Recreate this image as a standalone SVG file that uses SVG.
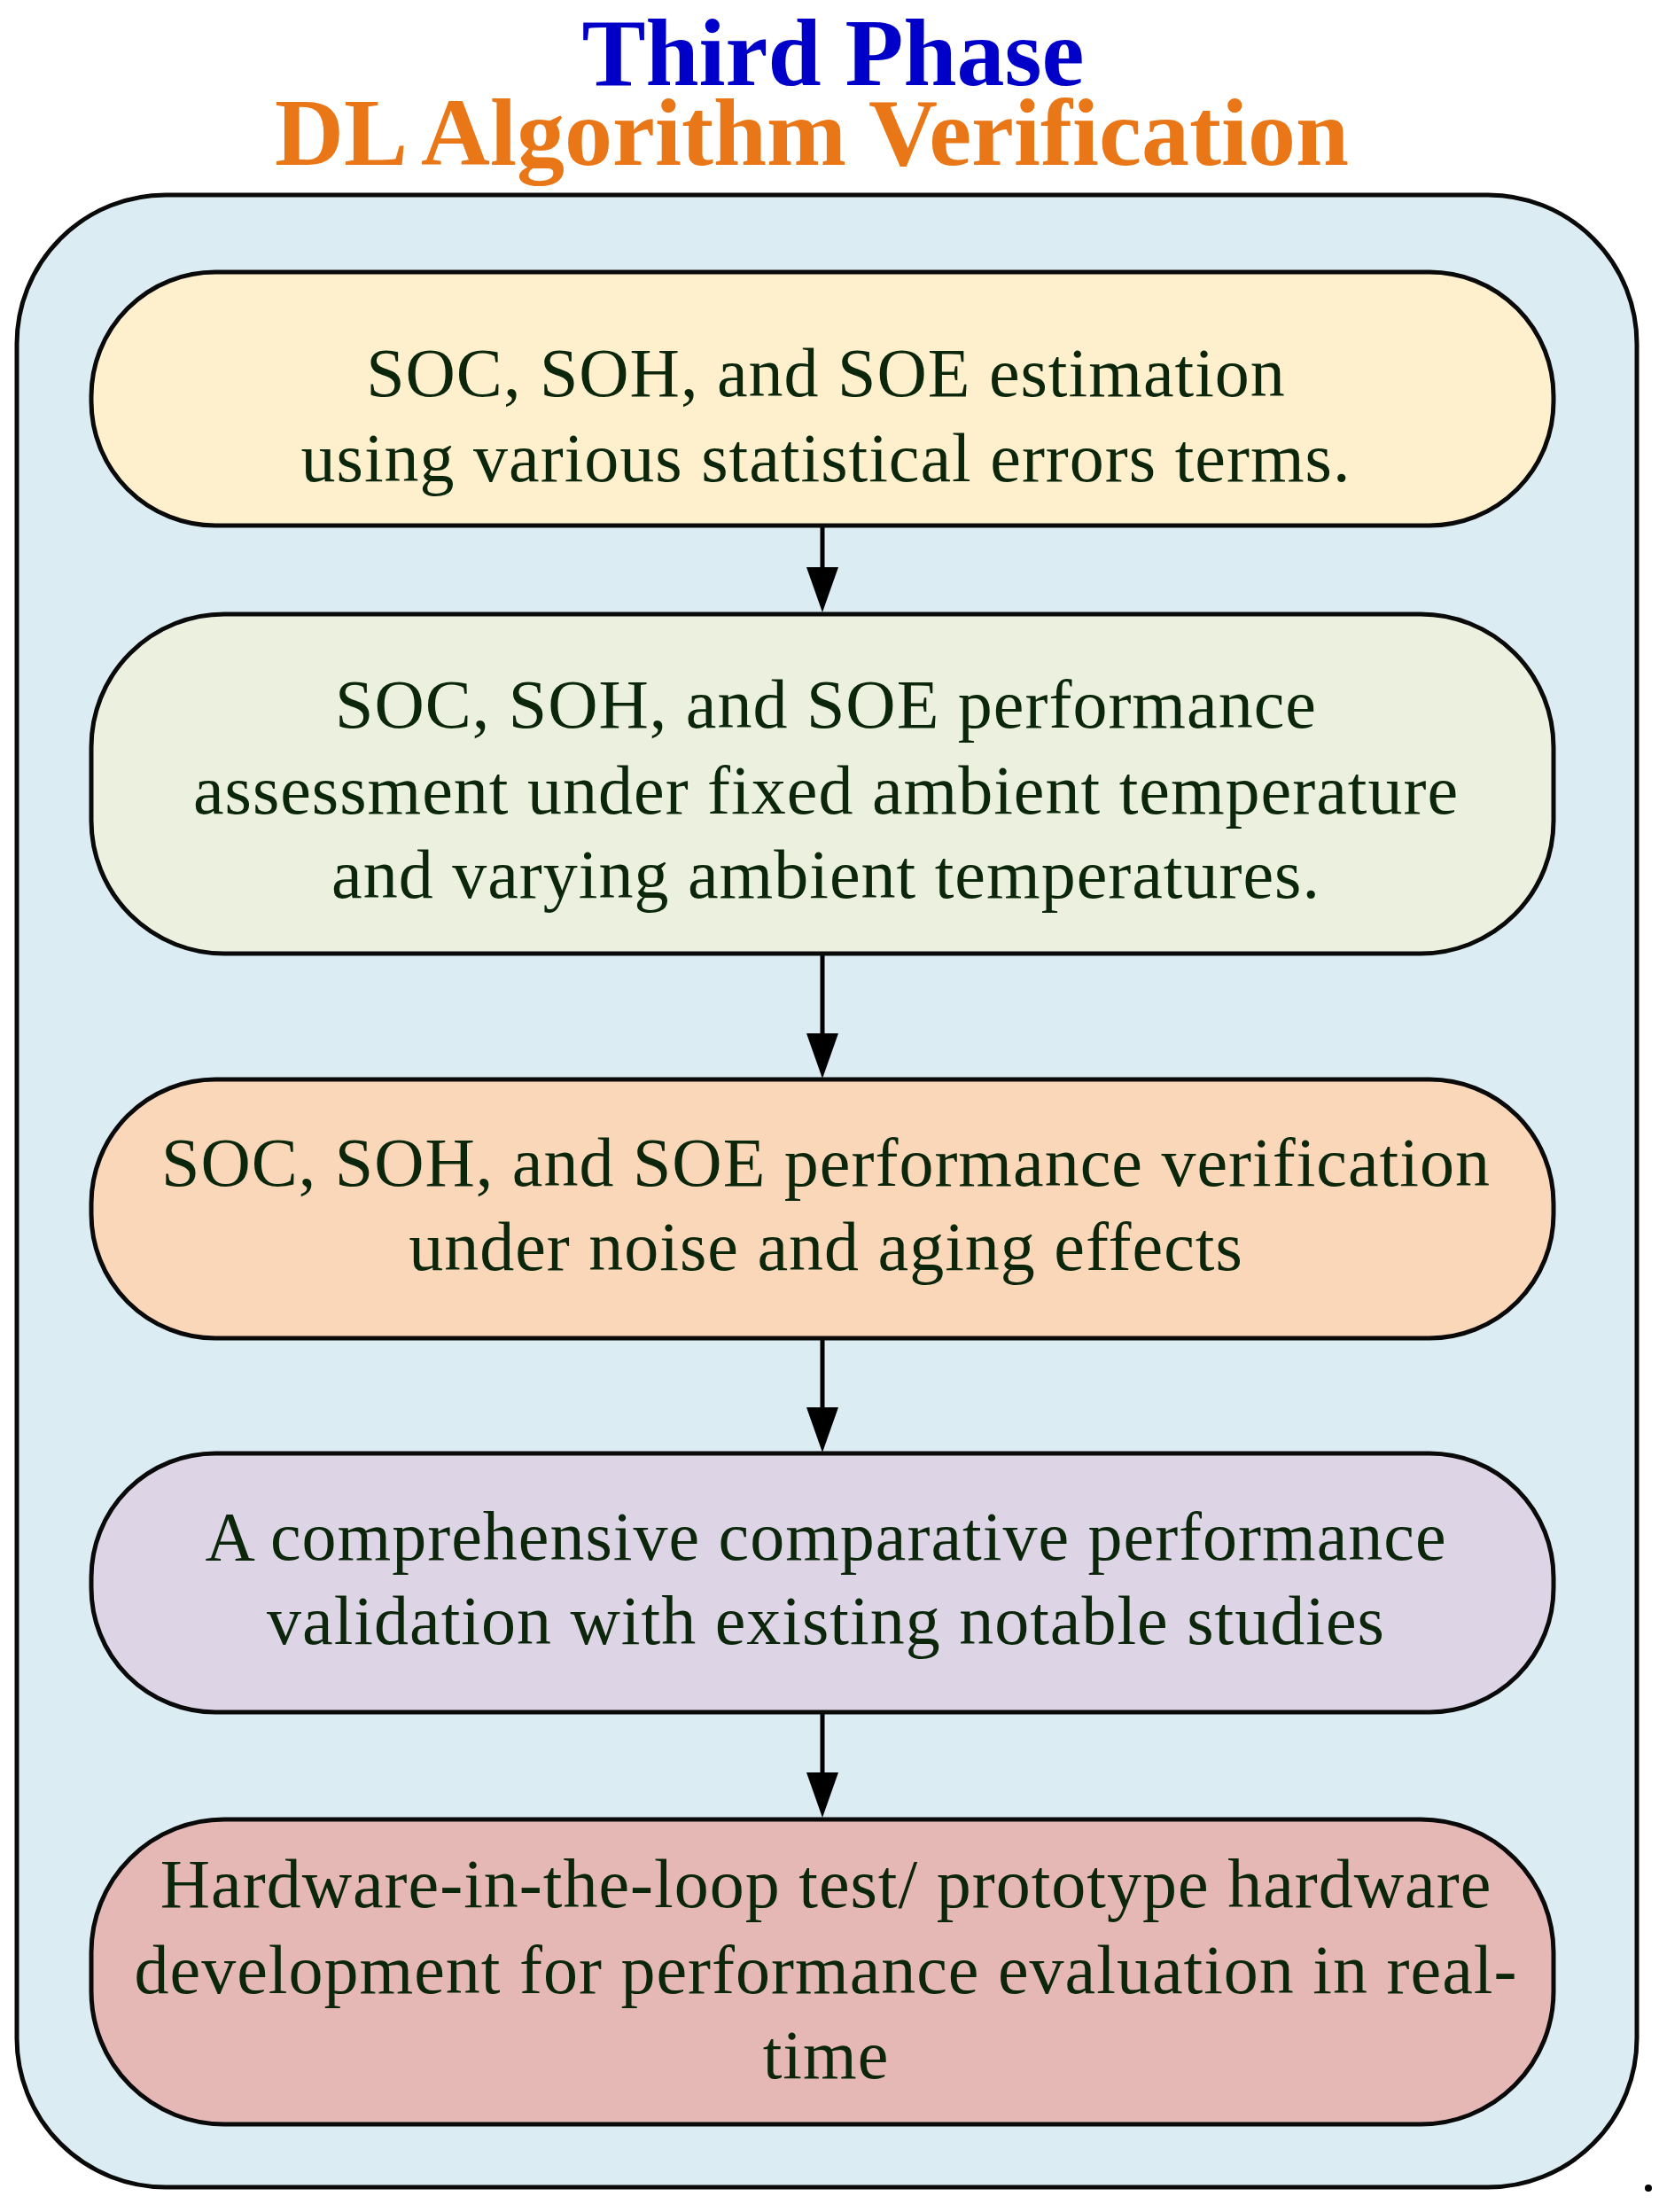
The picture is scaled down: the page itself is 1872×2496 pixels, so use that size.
<svg xmlns="http://www.w3.org/2000/svg" width="1872" height="2496" viewBox="0 0 1872 2496">
<style>
.title{font-family:"Liberation Serif","Times New Roman",serif;font-weight:bold;font-size:108px;text-anchor:middle}
.box{stroke:#0a0a0a;stroke-width:5}
.lbl{font-family:"Liberation Serif","Times New Roman",serif;font-size:78px;letter-spacing:1px;fill:#0b260b;text-anchor:middle}
.conn{stroke:#000;stroke-width:5;fill:none}
</style>
<defs>
<marker id="ah" viewBox="0 0 36 52" refX="18" refY="52" markerWidth="36" markerHeight="52" markerUnits="userSpaceOnUse" orient="auto-start-reverse">
<path d="M0,0 L36,0 L18,52 Z" fill="#000"/>
</marker>
</defs>
<rect width="1872" height="2496" fill="#ffffff"/>
<g id="title">
<text class="title" x="940" y="96" fill="#0000c8">Third Phase</text>
<text class="title" x="916" y="186" fill="#e97717">DL Algorithm Verification</text>
</g>
<g id="container">
<rect class="box" x="19" y="220" width="1828" height="2248" rx="168" ry="168" fill="#dbecf3"/>
</g>
<g id="connectors">
<line class="conn" x1="928" y1="594" x2="928" y2="640"/>
<path d="M910,640 L946,640 L928,691 Z" fill="#000"/>
<line class="conn" x1="928" y1="1077" x2="928" y2="1166"/>
<path d="M910,1166 L946,1166 L928,1217 Z" fill="#000"/>
<line class="conn" x1="928" y1="1511" x2="928" y2="1588"/>
<path d="M910,1588 L946,1588 L928,1639 Z" fill="#000"/>
<line class="conn" x1="928" y1="1933" x2="928" y2="2000"/>
<path d="M910,2000 L946,2000 L928,2051 Z" fill="#000"/>
</g>
<g id="node1">
<rect class="box" x="103" y="307" width="1650" height="286" rx="140" ry="140" fill="#fef0cd"/>
<text class="lbl" x="932" y="447">SOC, SOH, and SOE estimation</text>
<text class="lbl" x="932" y="543">using various statistical errors terms.</text>
</g>
<g id="node2">
<rect class="box" x="103" y="693" width="1650" height="383" rx="150" ry="150" fill="#ebf0df"/>
<text class="lbl" x="932" y="821">SOC, SOH, and SOE performance</text>
<text class="lbl" x="932" y="918">assessment under fixed ambient temperature</text>
<text class="lbl" x="932" y="1013">and varying ambient temperatures.</text>
</g>
<g id="node3">
<rect class="box" x="103" y="1218" width="1650" height="292" rx="140" ry="140" fill="#fad7b8"/>
<text class="lbl" x="932" y="1338">SOC, SOH, and SOE performance verification</text>
<text class="lbl" x="932" y="1433">under noise and aging effects</text>
</g>
<g id="node4">
<rect class="box" x="103" y="1640" width="1650" height="292" rx="140" ry="140" fill="#ddd5e5"/>
<text class="lbl" x="932" y="1760">A comprehensive comparative performance</text>
<text class="lbl" x="932" y="1855">validation with existing notable studies</text>
</g>
<g id="node5">
<rect class="box" x="103" y="2053" width="1650" height="344" rx="150" ry="150" fill="#e5b8b6"/>
<text class="lbl" x="932" y="2152">Hardware-in-the-loop test/ prototype hardware</text>
<text class="lbl" x="932" y="2249">development for performance evaluation in real-</text>
<text class="lbl" x="932" y="2345">time</text>
</g>
<circle cx="1860" cy="2469" r="4" fill="#000"/>
</svg>
